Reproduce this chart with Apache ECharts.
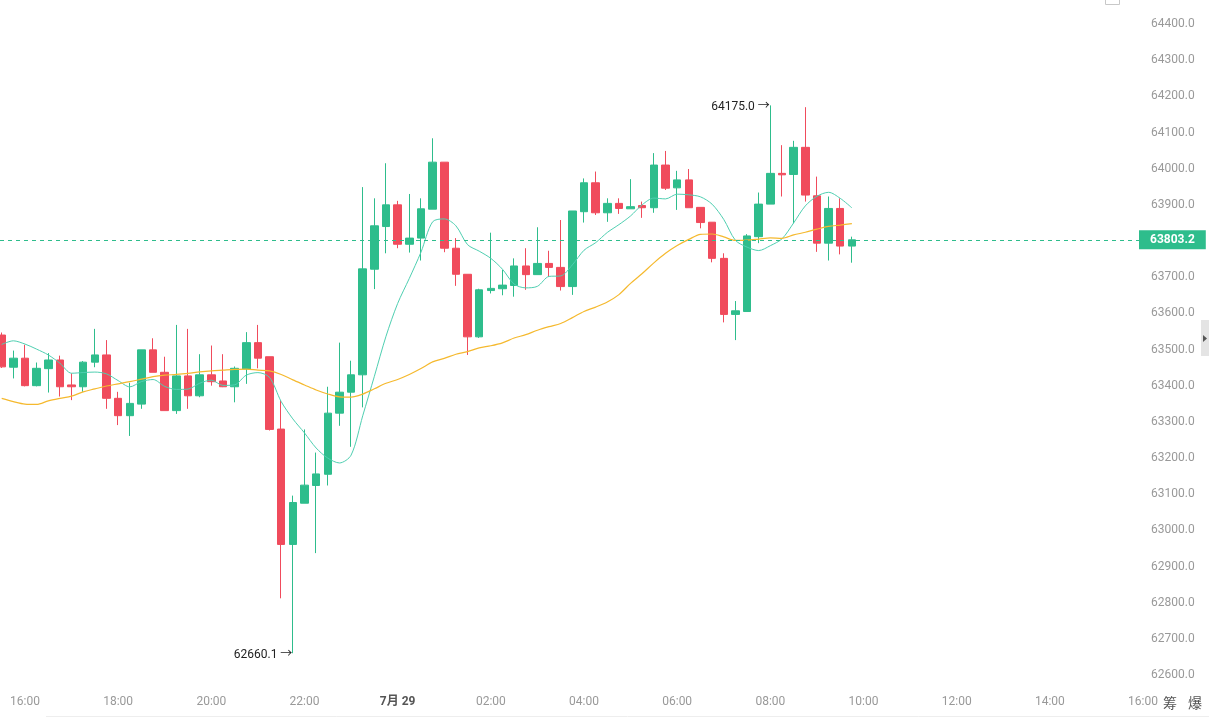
<!DOCTYPE html>
<html>
<head>
<meta charset="utf-8">
<title>K线 15分钟</title>
<script src="https://cdn.jsdelivr.net/npm/echarts@6/dist/echarts.min.js"></script>
<style>
  html, body { margin: 0; padding: 0; background: #fff; }
  #main { width: 1209px; height: 718px; }
</style>
</head>
<body>
<div id="main"></div>
<script>
// 15 分钟K线, 第一根 7/28 15:30
var startMinute = 15 * 60 + 30;

var opens = [63540, 63451, 63476, 63400, 63447, 63471, 63402, 63397, 63465, 63485,
  63365, 63317, 63349, 63499, 63437, 63331, 63427, 63372, 63430, 63413,
  63397, 63446, 63519, 63480, 63280, 62961, 63075, 63124, 63155, 63324,
  63382, 63430, 63722, 63840, 63900, 63791, 63808, 63888, 64018, 63780,
  63708, 63535, 63663, 63668, 63677, 63731, 63707, 63738, 63727, 63674,
  63881, 63961, 63878, 63904, 63889, 63898, 63892, 64010, 63947, 63969,
  63893, 63852, 63752, 63597, 63605, 63812, 63902, 63987, 63984, 64059,
  63925, 63794, 63890, 63786];
var closes = [63452, 63476, 63400, 63448, 63471, 63397, 63397, 63465, 63485, 63365,
  63317, 63351, 63499, 63437, 63331, 63427, 63372, 63430, 63411, 63397,
  63448, 63519, 63476, 63279, 62961, 63077, 63125, 63156, 63324, 63382,
  63430, 63723, 63842, 63900, 63791, 63808, 63889, 64018, 63780, 63708,
  63535, 63665, 63669, 63678, 63731, 63707, 63738, 63727, 63674, 63883,
  63961, 63878, 63904, 63890, 63895, 63892, 64010, 63946, 63969, 63892,
  63851, 63752, 63597, 63607, 63814, 63902, 63987, 63983, 64059, 63927,
  63794, 63890, 63786, 63803.2];
var lows = [63449, 63420, 63398, 63398, 63381, 63370, 63360, 63383, 63451, 63336,
  63291, 63261, 63336, 63437, 63331, 63322, 63336, 63368, 63400, 63396,
  63354, 63405, 63448, 63276, 62812, 62660.1, 63075, 62937, 63124, 63289,
  63231, 63340, 63667, 63766, 63780, 63768, 63746, 63888, 63769, 63676,
  63485, 63532, 63655, 63650, 63646, 63665, 63707, 63701, 63663, 63651,
  63851, 63872, 63853, 63875, 63889, 63864, 63878, 63941, 63886, 63892,
  63835, 63741, 63575, 63526, 63605, 63794, 63902, 63923, 63849, 63909,
  63770, 63746, 63763, 63740];
var highs = [63547, 63497, 63513, 63464, 63490, 63483, 63434, 63468, 63557, 63526,
  63383, 63408, 63499, 63531, 63480, 63568, 63557, 63487, 63511, 63487,
  63453, 63548, 63568, 63480, 63360, 63096, 63279, 63215, 63397, 63519,
  63469, 63949, 63918, 64015, 63911, 63930, 63918, 64084, 64018, 63808,
  63708, 63668, 63823, 63720, 63752, 63780, 63838, 63773, 63858, 63883,
  63973, 63992, 63918, 63918, 63971, 63909, 64043, 64049, 63994, 63999,
  63893, 63852, 63766, 63634, 63819, 63934, 64175, 64065, 64077, 64170,
  63978, 63923, 63918, 63812];

// 均线开头几根的窗口超出了可见数据, 这几点直接从图上读
var ma7Lead = [63514, 63524, 63515, 63501, 63485, 63462];
var ma30Lead = [63365, 63356, 63349, 63348, 63358, 63365, 63371, 63383, 63391, 63399,
  63405, 63411, 63418, 63425, 63429, 63431, 63434, 63438, 63441, 63443,
  63445, 63446, 63443, 63441, 63431, 63416, 63402, 63388, 63377];

// 横轴标签所在的格子 (每 2 小时一个)
var labelSlots = [2, 10, 18, 26, 34, 42, 50, 58, 66, 74, 82, 90, 98];

var upColor = '#2ebd8c';
var downColor = '#f04b5c';

function movingAvg(lead, n) {
  var out = [];
  for (var i = 0; i < closes.length; i++) {
    if (i < lead.length) { out.push([i, lead[i]]); continue; }
    var s = 0;
    for (var k = i - n + 1; k <= i; k++) s += closes[k];
    out.push([i, +(s / n).toFixed(1)]);
  }
  return out;
}

function slotLabel(i) {
  var m = startMinute + Math.round(i) * 15;
  if (m % 1440 === 0) return '{day|7月 29}';
  var h = Math.floor(m / 60) % 24;
  var mm = m % 60;
  return (h < 10 ? '0' : '') + h + ':' + (mm < 10 ? '0' : '') + mm;
}

var kdata = [];
for (var i = 0; i < closes.length; i++) {
  kdata.push([i, opens[i], closes[i], lows[i], highs[i]]);
}

var myChart = echarts.init(document.getElementById('main'));
var option = {
  animation: false,
  backgroundColor: '#fff',
  textStyle: { fontFamily: 'Roboto, "Noto Sans CJK SC", sans-serif' },
  grid: { left: 0, right: 64, top: 24, bottom: 43, outerBoundsMode: 'none' },
  xAxis: {
    type: 'value',
    min: -0.146,
    max: 98.17,
    axisLine: { show: false },
    axisTick: { show: false },
    splitLine: { show: false },
    axisLabel: {
      customValues: labelSlots,
      color: '#999',
      fontSize: 12,
      margin: 21,
      formatter: slotLabel,
      rich: { day: { color: '#555', fontWeight: 'bold', fontSize: 12 } }
    }
  },
  yAxis: {
    type: 'value',
    position: 'right',
    min: 62600,
    max: 64400,
    interval: 100,
    scale: true,
    axisLine: { show: false },
    axisTick: { show: false },
    splitLine: { show: false },
    axisLabel: {
      color: '#999',
      fontSize: 12,
      margin: 6,
      formatter: function (v) { return v.toFixed(1); }
    }
  },
  series: [
    {
      name: 'K',
      type: 'candlestick',
      barWidth: 8,
      data: kdata,
      itemStyle: {
        color: upColor,
        color0: downColor,
        borderColor: upColor,
        borderColor0: downColor,
        borderWidth: 1
      },
      markPoint: {
        symbol: 'circle',
        symbolSize: 1,
        silent: true,
        itemStyle: { color: 'rgba(0,0,0,0)' },
        label: {
          position: 'left',
          distance: 2,
          offset: [2, 2],
          color: '#222',
          fontSize: 12,
          formatter: function (p) { return p.value.toFixed(1) + ' →'; }
        },
        data: [
          { type: 'max', valueDim: 'highest' },
          { type: 'min', valueDim: 'lowest' }
        ]
      },
      markLine: {
        symbol: ['none', 'none'],
        silent: true,
        data: [{ yAxis: closes[closes.length - 1] }],
        lineStyle: { color: upColor, type: [4, 4], width: 1 },
        label: {
          position: 'end',
          distance: -6,
          color: '#fff',
          fontSize: 12,
          fontWeight: 'bold',
          backgroundColor: upColor,
          padding: [4, 11, 3, 11],
          formatter: function (p) { return p.value.toFixed(1); }
        }
      }
    },
    {
      name: 'MA7',
      type: 'line',
      data: movingAvg(ma7Lead, 7),
      showSymbol: false,
      smooth: 0.3,
      lineStyle: { color: '#4fcfb1', width: 1 }
    },
    {
      name: 'MA30',
      type: 'line',
      data: movingAvg(ma30Lead, 30),
      showSymbol: false,
      smooth: 0.3,
      lineStyle: { color: '#f5b92e', width: 1.2 }
    }
  ],
  graphic: [
    { type: 'line', shape: { x1: 46, y1: 716.5, x2: 1209, y2: 716.5 }, style: { stroke: '#eee', lineWidth: 1 } },
    { type: 'rect', shape: { x: 1105.5, y: -6.5, width: 14, height: 11 }, style: { fill: '#fff', stroke: '#c8c8c8', lineWidth: 1 } },
    { type: 'rect', shape: { x: 1201, y: 320, width: 8, height: 36 }, style: { fill: '#e4e4e4' } },
    { type: 'polygon', shape: { points: [[1203, 335], [1207, 338.5], [1203, 342]] }, style: { fill: '#555' } },
    { type: 'text', x: 1163, y: 703, style: { text: '筹', fill: '#555', font: '14px "Noto Sans CJK SC"', verticalAlign: 'middle' } },
    { type: 'text', x: 1188, y: 703, style: { text: '爆', fill: '#555', font: '14px "Noto Sans CJK SC"', verticalAlign: 'middle' } }
  ]
};
myChart.setOption(option);
</script>
</body>
</html>
